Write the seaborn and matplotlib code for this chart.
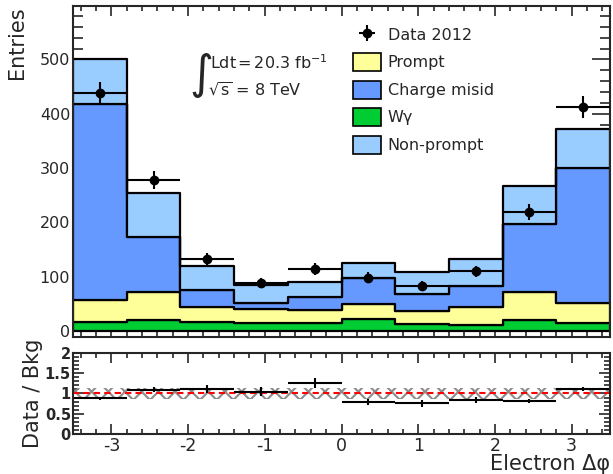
import numpy as np
import pandas as pd
import matplotlib
matplotlib.use('Agg')
import matplotlib.pyplot as plt
from matplotlib.patches import Patch
from matplotlib.ticker import MultipleLocator
import seaborn as sns

# Binning of the electron delta-phi distribution
bin_edges = [-3.5, -2.8, -2.1, -1.4, -0.7, 0.0, 0.7, 1.4, 2.1, 2.8, 3.5]

# Background yields per bin
wgamma = [16, 20, 17, 14, 14, 22, 13, 11, 20, 15]
prompt = [42, 51, 28, 26, 25, 28, 24, 33, 52, 37]
charge_misid = [360, 103, 30, 11, 23, 48, 32, 39, 125, 249]
non_prompt = [82, 81, 45, 34, 29, 27, 40, 49, 70, 70]

# Observed events
data_2012 = [438, 278, 133, 89, 114, 98, 83, 110, 219, 413]

# seaborn stacks the last hue level at the bottom
process_names = ['Non-prompt', 'Charge misid', 'Prompt', 'W\u03b3']
process_colors = ['#99ccff', '#6699ff', '#ffff99', '#00cc33']
legend_order = ['Prompt', 'Charge misid', 'W\u03b3', 'Non-prompt']

sns.set_style('ticks')
plt.rcParams['font.family'] = ['DejaVu Sans']
plt.rcParams['mathtext.fontset'] = 'dejavusans'
plt.rcParams['axes.unicode_minus'] = False
plt.rcParams['hatch.linewidth'] = 1.5

edges = np.array(bin_edges)
centres = 0.5 * (edges[:-1] + edges[1:])
half_width = 0.5 * np.diff(edges)

yields = {'Non-prompt': non_prompt, 'Charge misid': charge_misid,
          'Prompt': prompt, 'W\u03b3': wgamma}
rows = []
for name in process_names:
    for c, v in zip(centres, yields[name]):
        rows.append({'dphi': float(c), 'events': float(v), 'process': name})
df = pd.DataFrame(rows)

data = np.array(data_2012, dtype=float)
bkg = np.array(wgamma) + np.array(prompt) + np.array(charge_misid) + np.array(non_prompt)

fig = plt.figure(figsize=(6.13, 4.74), dpi=100)
ax = fig.add_axes([0.1191, 0.289, 0.876, 0.698])
rax = fig.add_axes([0.1191, 0.0844, 0.876, 0.171])

# --- main panel ---
sns.histplot(data=df, x='dphi', weights='events', hue='process',
             hue_order=process_names, palette=dict(zip(process_names, process_colors)),
             bins=bin_edges, multiple='stack', element='step', alpha=1,
             edgecolor='black', linewidth=1.6, legend=False, ax=ax)

data_eb = ax.errorbar(centres, data, xerr=half_width, yerr=np.sqrt(data),
                      fmt='o', color='black', markersize=6, elinewidth=1.5,
                      capsize=0, zorder=5)

ax.set_xlim(-3.5, 3.5)
ax.set_ylim(-11, 598)
ax.set_xlabel('')
ax.set_ylabel('Entries', fontsize=15, loc='top')
ax.yaxis.set_label_coords(-0.085, 1.0)
ax.xaxis.set_major_locator(MultipleLocator(1))
ax.xaxis.set_minor_locator(MultipleLocator(0.2))
ax.yaxis.set_major_locator(MultipleLocator(100))
ax.yaxis.set_minor_locator(MultipleLocator(20))
ax.tick_params(axis='both', which='both', direction='in', top=True, right=True, width=1.2)
ax.tick_params(axis='y', which='major', length=13, labelsize=11.5, pad=2)
ax.tick_params(axis='y', which='minor', length=7)
ax.tick_params(axis='x', which='major', length=7, labelbottom=False)
ax.tick_params(axis='x', which='minor', length=3.5)
for sp in ax.spines.values():
    sp.set_linewidth(1.5)
    sp.set_visible(True)

# luminosity / energy label
ax.text(0.239, 0.79, '\u222b', transform=ax.transAxes, fontsize=33,
        ha='center', va='center')
ax.text(0.256, 0.828, r'Ldt$\,$=$\,$20.3 fb$^{-1}$', transform=ax.transAxes,
        fontsize=11.5, ha='left', va='center')
ax.text(0.251, 0.748, r'$\sqrt{\mathrm{s}}$ = 8 TeV', transform=ax.transAxes,
        fontsize=11.5, ha='left', va='center')

# legend
color_of = dict(zip(process_names, process_colors))
handles = [data_eb] + [Patch(facecolor=color_of[n], edgecolor='black', linewidth=1.2)
                       for n in legend_order]
labels = ['Data 2012'] + legend_order
ax.legend(handles, labels, loc='upper left', bbox_to_anchor=(0.497, 0.98),
          frameon=False, fontsize=11.5, handlelength=1.75, handleheight=1.35,
          labelspacing=0.6, handletextpad=0.45, borderaxespad=0.4)

# --- ratio panel ---
rax.fill_between(edges, 0.87, 1.13, hatch='xx', facecolor='none',
                 edgecolor='#8c8c8c', linewidth=0)
rax.axhline(1.0, color='red', linestyle=(0, (3, 2)), linewidth=1.5)
ratio = data / bkg
ratio_err = np.sqrt(data) / bkg
rax.errorbar(centres, ratio, xerr=half_width, yerr=ratio_err, fmt='none',
             ecolor='black', elinewidth=1.5, capsize=0)

rax.set_xlim(-3.5, 3.5)
rax.set_ylim(0, 2)
rax.xaxis.set_major_locator(MultipleLocator(1))
rax.xaxis.set_minor_locator(MultipleLocator(0.2))
rax.yaxis.set_major_locator(MultipleLocator(0.5))
rax.yaxis.set_minor_locator(MultipleLocator(0.1))
rax.set_yticks([0, 0.5, 1, 1.5, 2])
rax.set_yticklabels(['0', '0.5', '1', '1.5', '2'], fontweight='bold')
rax.tick_params(axis='both', which='both', direction='in', top=True, right=True, width=1.2)
rax.tick_params(axis='y', which='major', length=8, labelsize=10.5, pad=1.5)
rax.tick_params(axis='y', which='minor', length=4)
rax.tick_params(axis='x', which='major', length=7, labelsize=12.5, pad=2)
rax.tick_params(axis='x', which='minor', length=3.5)
for sp in rax.spines.values():
    sp.set_linewidth(1.5)
    sp.set_visible(True)

rax.set_ylabel('Data / Bkg', fontsize=15)
rax.yaxis.set_label_coords(-0.056, 0.5)
rax.set_xlabel('Electron \u0394\u03c6', fontsize=15, loc='right')
rax.xaxis.set_label_coords(1.0, -0.25)

fig.savefig('out.png', dpi=100)
